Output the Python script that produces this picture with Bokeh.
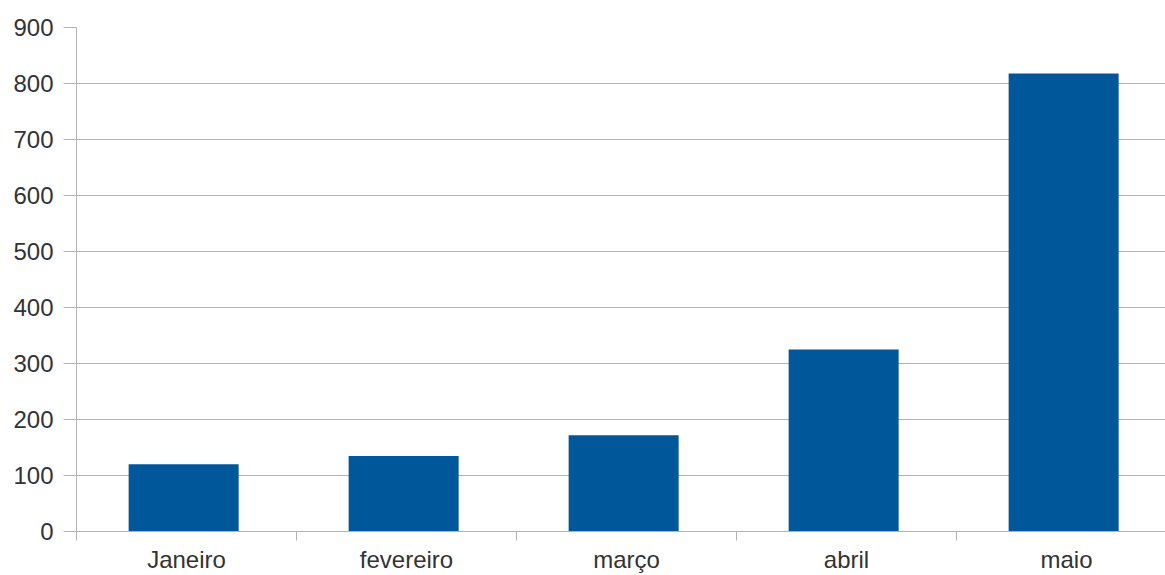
from bokeh.plotting import figure
from bokeh.models import Range1d, FixedTicker, ColumnDataSource
from bokeh.transform import dodge
from bokeh.embed import file_html
from bokeh.resources import INLINE

months = ["Janeiro", "fevereiro", "março", "abril", "maio"]
values = [120, 135, 172, 325, 818]
y_ticks = [0, 100, 200, 300, 400, 500, 600, 700, 800, 900]

centers = [i + 0.5 for i in range(len(months))]
bounds = [i for i in range(len(months) + 1)]

src = ColumnDataSource(dict(x=centers, top=values, name=months))

p = figure(width=1165, height=575, output_backend="svg", toolbar_location=None,
           x_range=Range1d(0, 4.95), y_range=Range1d(0, 900),
           min_border_left=76, min_border_right=0, min_border_top=27, min_border_bottom=44)
p.outline_line_color = None
p.background_fill_color = "white"
p.border_fill_color = "white"

p.vbar(x=dodge("x", -0.013), top="top", bottom=0, width=0.5, source=src,
       fill_color="#00579a", line_color=None)

grid_c = "#b3b3b3"
p.xgrid.visible = False
p.ygrid.grid_line_color = grid_c
p.ygrid.ticker = FixedTicker(ticks=y_ticks)

yax = p.yaxis[0]
yax.ticker = FixedTicker(ticks=y_ticks)
yax.axis_line_color = grid_c
yax.major_tick_line_color = grid_c
yax.major_tick_out = 13
yax.major_tick_in = 0
yax.minor_tick_line_color = None
yax.major_label_standoff = 10
yax.major_label_text_font = "Liberation Sans"
yax.major_label_text_font_size = "24px"
yax.major_label_text_color = "#333333"

xax = p.xaxis[0]
xax.ticker = FixedTicker(ticks=centers, minor_ticks=bounds)
xax.major_label_overrides = {c: m for c, m in zip(centers, months)}
xax.axis_line_color = grid_c
xax.major_tick_line_color = None
xax.major_tick_out = 0
xax.major_tick_in = 0
xax.minor_tick_line_color = grid_c
xax.minor_tick_out = 9
xax.minor_tick_in = 0
xax.major_label_standoff = 5
xax.major_label_text_font = "Liberation Sans"
xax.major_label_text_font_size = "24px"
xax.major_label_text_color = "#333333"

open("out.html", "w").write(file_html(p, INLINE))
